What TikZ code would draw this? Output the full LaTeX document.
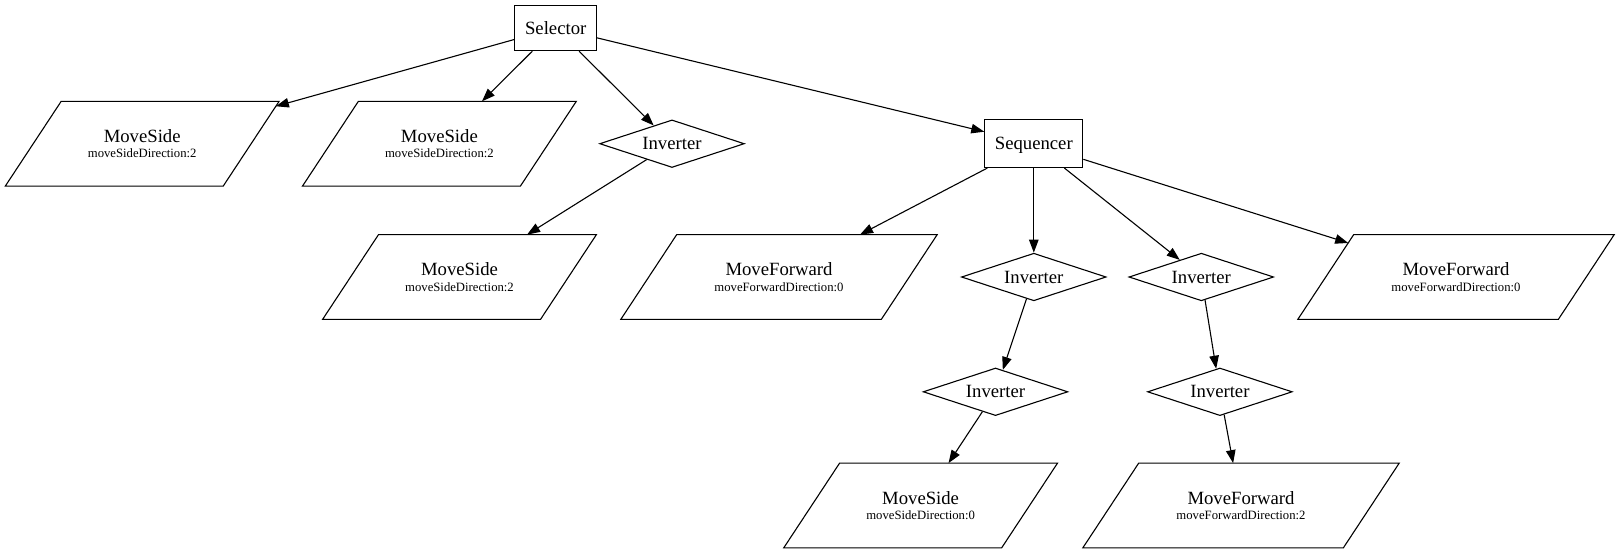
\documentclass[tikz,border=0pt]{standalone}
\usepackage{fontspec}
\setmainfont{Liberation Serif}
\usetikzlibrary{shapes.geometric,arrows.meta}
\newcommand\bigfs{\fontsize{18.7}{15.5}\selectfont}
\newcommand\smallfs{\fontsize{12.7}{15.5}\selectfont}
\tikzset{
  boxnode/.style={draw, rectangle, line width=1.1pt, inner sep=0pt, font=\bigfs,
    text height=12.6pt, text depth=0.4pt},
  invnode/.style={draw, diamond, aspect=3, line width=1.1pt, inner sep=0pt,
    minimum width=144.7pt, minimum height=47.6pt, font=\bigfs},
  % an empty parallelogram whose size comes from its inner separation
  actnode/.style={draw, trapezium, trapezium left angle=56.6, trapezium right angle=123.4,
    line width=1.1pt, inner ysep=42.4pt, outer sep=0pt},
  sidenode/.style={actnode, inner xsep=81pt},
  fwdnode/.style={actnode, inner xsep=102.3pt},
  lbl/.style={align=center, font=\bigfs, inner sep=0pt},
  edge/.style={line width=1.1pt, -{Triangle[length=13pt,width=9.5pt]}},
}
\begin{document}
\begin{tikzpicture}[x=1pt,y=-1pt]
\path[use as bounding box, fill=white] (0,0) rectangle (1621,555);

% composite nodes
\node[boxnode, minimum width=81.7pt, minimum height=45.5pt] (sel) at (555.7,27.9) {Selector};
\node[boxnode, minimum width=98pt, minimum height=47.6pt] (seq) at (1033.8,143.7) {Sequencer};

% decorators
\node[invnode] (invA) at (672,143.7) {Inverter};
\node[invnode] (invB) at (1033.8,277) {Inverter};
\node[invnode] (invC) at (1201.3,277) {Inverter};
\node[invnode] (invD) at (995.5,391.8) {Inverter};
\node[invnode] (invE) at (1219.9,391.8) {Inverter};

% actions
\node[sidenode, label={[lbl]center:{MoveSide\\{\smallfs moveSideDirection:2}}}] (msA) at (142.2,143.7) {};
\node[sidenode, label={[lbl]center:{MoveSide\\{\smallfs moveSideDirection:2}}}] (msB) at (439.4,143.7) {};
\node[sidenode, label={[lbl]center:{MoveSide\\{\smallfs moveSideDirection:2}}}] (msC) at (459.5,277) {};
\node[fwdnode, label={[lbl]center:{MoveForward\\{\smallfs moveForwardDirection:0}}}] (mfA) at (779,277) {};
\node[fwdnode, label={[lbl]center:{MoveForward\\{\smallfs moveForwardDirection:0}}}] (mfB) at (1456,277) {};
\node[sidenode, label={[lbl]center:{MoveSide\\{\smallfs moveSideDirection:0}}}] (msD) at (920.6,505.5) {};
\node[fwdnode, label={[lbl]center:{MoveForward\\{\smallfs moveForwardDirection:2}}}] (mfC) at (1241,505.5) {};

% connectors
\draw[edge] (sel) -- (msA);
\draw[edge] (sel) -- (msB);
\draw[edge] (sel) -- (invA);
\draw[edge] (sel) -- (seq);
\draw[edge] (invA) -- (msC);
\draw[edge] (seq) -- (mfA);
\draw[edge] (seq) -- (invB);
\draw[edge] (seq) -- (invC);
\draw[edge] (seq) -- (mfB);
\draw[edge] (invB) -- (invD);
\draw[edge] (invC) -- (invE);
\draw[edge] (invD) -- (msD);
\draw[edge] (invE) -- (mfC);
\end{tikzpicture}
\end{document}
